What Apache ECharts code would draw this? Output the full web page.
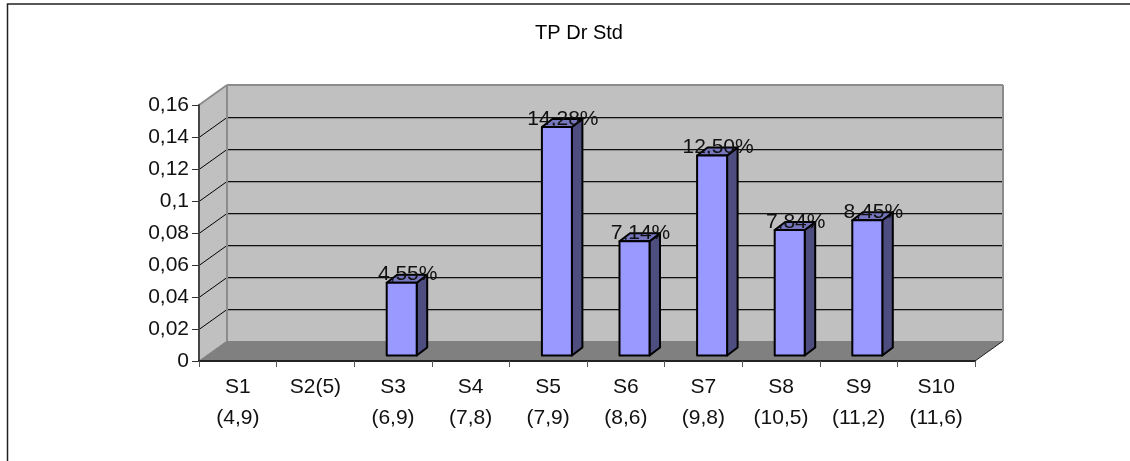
<!DOCTYPE html>
<html><head><meta charset="utf-8">
<style>html,body{margin:0;padding:0;background:#fff}#c{width:1130px;height:461px}</style>
<script src="https://cdn.jsdelivr.net/npm/echarts@6/dist/echarts.min.js"></script>
</head><body><div id="c"></div>
<script>
const categories = ['S1\n(4,9)','S2(5)','S3\n(6,9)','S4\n(7,8)','S5\n(7,9)','S6\n(8,6)','S7\n(9,8)','S8\n(10,5)','S9\n(11,2)','S10\n(11,6)'];
const values = [null,null,0.0455,null,0.1428,0.0714,0.125,0.0784,0.0845,null];
const valueLabels = ['','','4,55%','','14,28%','7,14%','12,50%','7,84%','8,45%',''];
const yTicks = [0,0.02,0.04,0.06,0.08,0.1,0.12,0.14,0.16];
const DX = 28, DY = -20;
const font = 'Liberation Sans, Arial, sans-serif';
const chart = echarts.init(document.getElementById('c'), null, {renderer:'canvas'});
const poly = (pts, fill) => ({type:'polygon', shape:{points:pts}, style:{fill, stroke:'none', lineWidth:0}});
const line = (a,b,stroke,lw) => ({type:'line', shape:{x1:a[0],y1:a[1],x2:b[0],y2:b[1]}, style:{stroke, lineWidth:lw, fill:'none'}});
function wallItem(params, api){
  if (params.dataIndex !== 0) return null;
  const L = params.coordSys.x, R = L + params.coordSys.width;
  const y0 = api.coord([0,0])[1], yT = api.coord([0,0.16])[1];
  const kids = [
    poly([[L,y0],[L+DX,y0+DY],[L+DX,yT+DY],[L,yT]], '#c0c0c0'),
    poly([[L+DX,y0+DY],[R+DX,y0+DY],[R+DX,yT+DY],[L+DX,yT+DY]], '#c0c0c0'),
    poly([[L,y0],[R,y0],[R+DX,y0+DY],[L+DX,y0+DY]], '#808080')
  ];
  yTicks.forEach(t=>{
    if (t===0 || t===0.16) return;
    const y = Math.round(api.coord([0,t])[1]) + 0.5;
    kids.push(line([L,y],[L+DX,y+DY],'#000',1));
    kids.push(line([L+DX,y+DY+1],[R+DX,y+DY+1],'#8c8c8c',1));
    kids.push(line([L+DX,y+DY],[R+DX,y+DY],'#111',1));
  });
  kids.push(
    line([L+DX,yT+DY],[R+DX,yT+DY],'#8c8c8c',2),
    line([R+DX,yT+DY],[R+DX,y0+DY],'#8c8c8c',2),
    line([L+DX,yT+DY],[L+DX,y0+DY],'#8c8c8c',2),
    line([L,yT],[L+DX,yT+DY],'#8c8c8c',2),
    line([R,y0],[R+DX,y0+DY],'#222',1),
    line([L,y0],[L+DX,y0+DY],'#808080',1)
  );
  return {type:'group', children:kids};
}
function barItem(params, api){
  const v = api.value(1);
  if (v==null || isNaN(v)) return null;
  const c = api.coord([api.value(0), v]);
  const base = api.coord([api.value(0), 0]);
  const w = 30, ox = 8.7, oy = -5.5, dx = 10.5, dy = -8;
  const x = c[0]+ox-w/2, yt = c[1]+oy, yb = base[1]+oy;
  const s = {stroke:'#000', lineWidth:2, lineJoin:'round'};
  const P = (pts,fill)=>({type:'polygon', shape:{points:pts}, style:Object.assign({fill},s)});
  return {type:'group', children:[
    P([[x+w,yt],[x+w+dx,yt+dy],[x+w+dx,yb+dy],[x+w,yb]], '#4d4d80'),
    P([[x,yt],[x+dx,yt+dy],[x+w+dx,yt+dy],[x+w,yt]], '#7777bf'),
    P([[x,yt],[x+w,yt],[x+w,yb],[x,yb]], '#9999ff'),
    {type:'text', style:{text:valueLabels[params.dataIndex], x:x+w/2+6, y:yt+dy, textAlign:'center', textVerticalAlign:'middle', font:'21px '+font, fill:'#111'}, z2:10}
  ]};
}
chart.setOption({
  animation:false,
  backgroundColor:'#fff',
  graphic:[{type:'rect', shape:{x:7.5,y:4,width:2000,height:2000}, style:{fill:'none',stroke:'#222',lineWidth:1.5}, silent:true, z:100}],
  title:{text:'TP Dr Std', left:574, top:18, textAlign:'center', textStyle:{fontFamily:font,fontSize:20,fontWeight:'normal',color:'#000'}},
  grid:{left:199,right:155,top:105,bottom:100,containLabel:false},
  xAxis:{type:'category',data:categories,boundaryGap:true,
    axisLine:{show:true,lineStyle:{color:'#222',width:2}},
    axisTick:{show:true,alignWithLabel:false,length:6,lineStyle:{color:'#555',width:1}},
    axisLabel:{interval:0,fontFamily:font,fontSize:21,color:'#111',lineHeight:31,margin:11},
    splitLine:{show:false}, z:5},
  yAxis:{type:'value',min:0,max:0.16,interval:0.02,
    axisLine:{show:true,onZero:false,lineStyle:{color:'#444',width:2}},
    axisTick:{show:true,length:7,lineStyle:{color:'#333',width:1}},
    axisLabel:{fontFamily:font,fontSize:21,color:'#111',margin:10,formatter:v=>String(v).replace('.',',')},
    splitLine:{show:false}, z:5},
  series:[
    {type:'custom',renderItem:wallItem,data:[[0,0]],z:1,silent:true,clip:false},
    {type:'custom',renderItem:barItem,data:categories.map((c,i)=>[i,values[i]]),encode:{x:0,y:1},z:3,clip:false}
  ]
});
</script></body></html>
